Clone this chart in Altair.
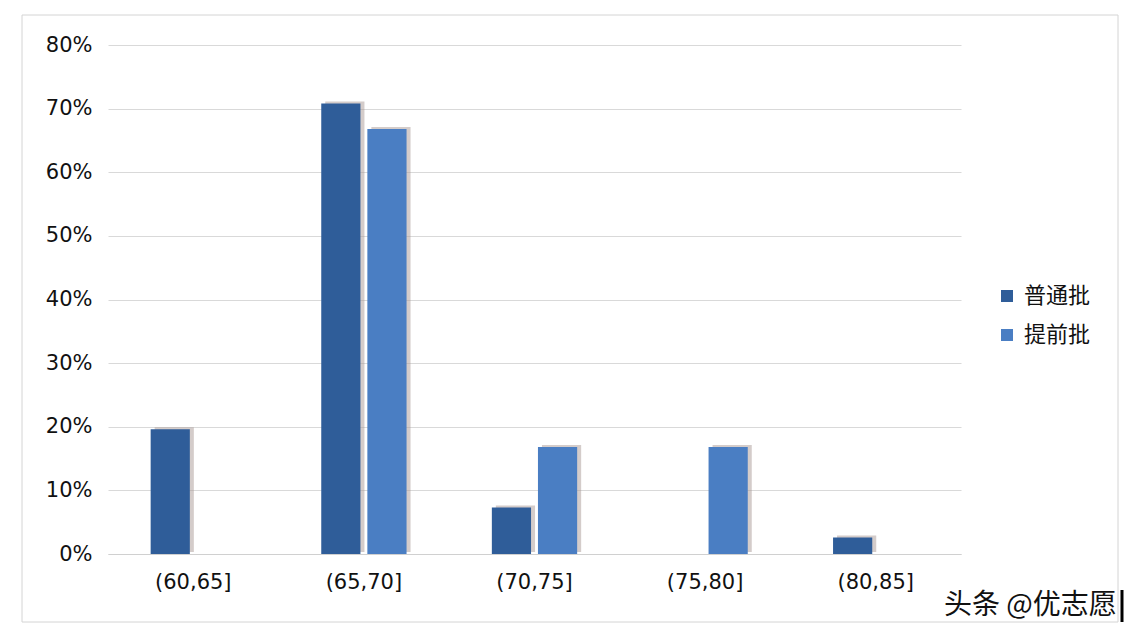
import altair as alt
import pandas as pd

categories = ["(60,65]", "(65,70]", "(70,75]", "(75,80]", "(80,85]"]
series_names = ["普通批", "提前批"]
putong = [0.196, 0.708, 0.073, 0.0, 0.026]
tiqian = [0.0, 0.668, 0.168, 0.168, 0.0]
colors = ["#2F5D99", "#4A7EC3"]
y_ticks = [0, 0.1, 0.2, 0.3, 0.4, 0.5, 0.6, 0.7, 0.8]
credit = "头条 @优志愿"

rows = []
for c, a, b in zip(categories, putong, tiqian):
    rows.append({"区间": c, "批次": series_names[0], "比例": a})
    rows.append({"区间": c, "批次": series_names[1], "比例": b})
df = pd.DataFrame(rows)

FONT = "DejaVu Sans, Noto Sans CJK SC"
CJK = "Noto Sans CJK SC"
W, H = 853, 509
BAND = W / 5 * 0.5  # group width inside a category

x_enc = alt.X(
    "区间:N", sort=categories, title=None,
    scale=alt.Scale(paddingInner=0.5, paddingOuter=0.25),
    axis=alt.Axis(labelAngle=0, labelFontSize=21, labelColor="#111", labelFont=FONT,
                  labelPadding=17, domainColor="#d0d0d0", ticks=False),
)
xo_enc = alt.XOffset("批次:N", sort=series_names, scale=alt.Scale(paddingInner=0.15))
xo_shadow = alt.XOffset("批次:N", sort=series_names,
                        scale=alt.Scale(paddingInner=0.15, range=[4, BAND + 4]))
y_enc = alt.Y(
    "比例:Q", title=None, scale=alt.Scale(domain=[0, 0.8]),
    axis=alt.Axis(format=".0%", values=y_ticks, labelFontSize=21, labelColor="#111",
                  labelFont=FONT, grid=True, gridColor="#d9d9d9", domain=False,
                  ticks=False, labelPadding=16),
)

shadow = alt.Chart(df).mark_bar(yOffset=-2, color="#a99a95", opacity=0.5).encode(
    x=x_enc, xOffset=xo_shadow, y=y_enc
)

bars = alt.Chart(df).mark_bar().encode(
    x=x_enc, xOffset=xo_enc, y=y_enc,
    color=alt.Color("批次:N", sort=series_names,
                    scale=alt.Scale(domain=series_names, range=colors),
                    legend=alt.Legend(title=None)),
)

one = pd.DataFrame({"k": [0]})
frame = alt.Chart(one).mark_rect(filled=False, stroke="#d4d4d4", strokeWidth=1).encode(
    x=alt.value(-86), x2=alt.value(1010), y=alt.value(-30), y2=alt.value(577)
)
text = alt.Chart(one).mark_text(align="left", baseline="middle", fontSize=28, font=CJK,
                                color="#111").encode(
    x=alt.value(836), y=alt.value(561), text=alt.value(credit)
)
cursor = alt.Chart(one).mark_rule(color="#000", strokeWidth=3).encode(
    x=alt.value(1014), y=alt.value(545), y2=alt.value(577)
)

chart = alt.layer(frame, shadow, bars, text, cursor).resolve_scale(
    xOffset="independent"
).properties(
    width=W, height=H,
    padding={"left": 100, "top": 37, "right": 175, "bottom": 80},
    autosize=alt.AutoSizeParams(type="none"),
    background="white",
).configure_view(strokeWidth=0).configure_legend(
    orient="none", legendX=888, legendY=240, symbolType="square", symbolSize=144,
    symbolStrokeWidth=0, labelFontSize=22, labelFont=CJK, labelColor="#111",
    rowPadding=17, labelOffset=6,
)

chart.save("out.html", embed_options={"renderer": "svg", "actions": False})
